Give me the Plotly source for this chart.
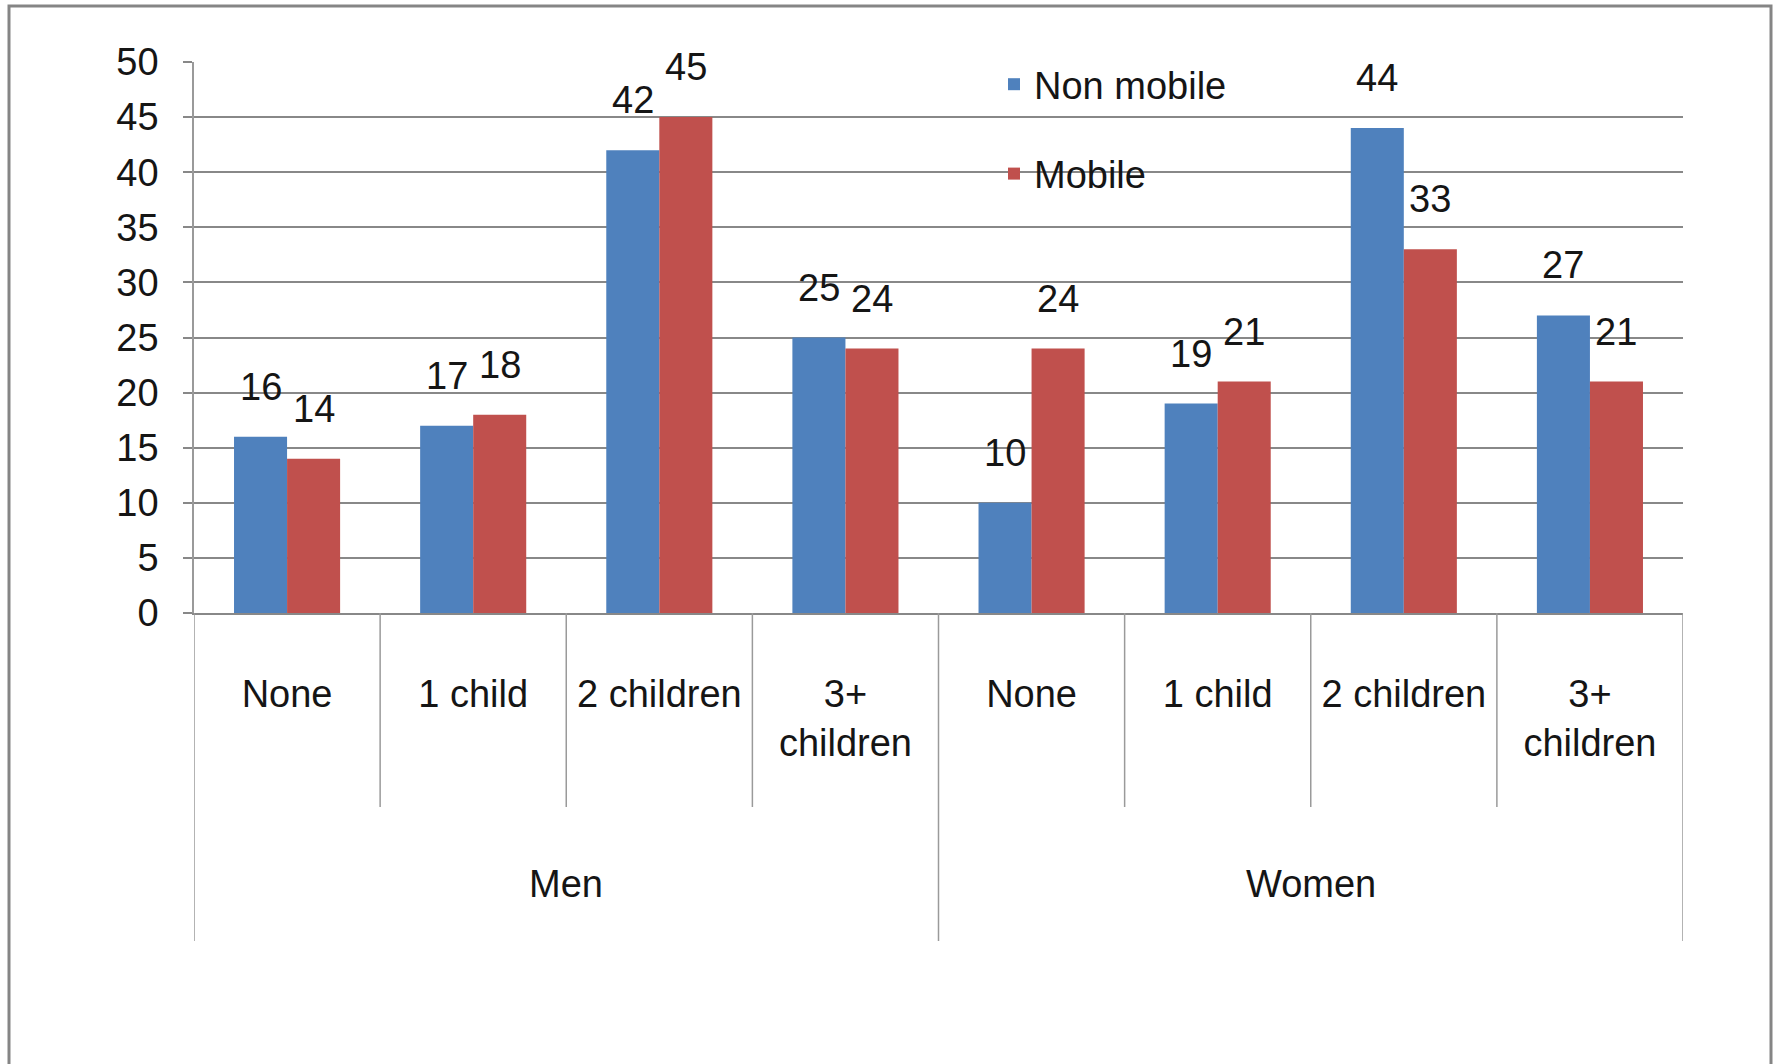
import plotly.graph_objects as go

# Chart data
groups = ["Men", "Women"]
children = ["None", "1 child", "2 children", "3+<br>children"]
series_names = ["Non mobile", "Mobile"]
non_mobile = [16, 17, 42, 25, 10, 19, 44, 27]
mobile = [14, 18, 45, 24, 24, 21, 33, 21]
y_ticks = [0, 5, 10, 15, 20, 25, 30, 35, 40, 45, 50]

# Styling
BLUE = "#4F81BD"
RED = "#C0504D"
GRID = "#888888"
SEP = "#9A9A9A"
FONT = "Liberation Sans, Arial, sans-serif"
FS = 38
TXT = "#151515"
BARGAP = 0.43

W, H = 1778, 1064
M_L, M_R, M_T, M_B = 194, 95, 62, 451
PLOT_W = W - M_L - M_R
PLOT_H = H - M_T - M_B


def px_x(px):
    return (px - M_L) / PLOT_W


def px_y(py):
    return (H - M_B - py) / PLOT_H


n_sub = len(children)
labels = [c for _ in groups for c in children]
positions = list(range(len(labels)))

fig = go.Figure()
for name, vals, col in [(series_names[0], non_mobile, BLUE), (series_names[1], mobile, RED)]:
    fig.add_trace(go.Bar(
        x=positions, y=vals, name=name, legendgroup=name,
        marker=dict(color=col, line=dict(width=0)),
    ))

# value labels sitting above each bar
half = (1 - BARGAP) / 4
annotations = []
for vals, off in [(non_mobile, -half), (mobile, half)]:
    for xi, v in zip(positions, vals):
        annotations.append(dict(
            x=xi + off, y=v, xref="x", yref="y", text=f"{v:g}",
            showarrow=False, yshift=50, yanchor="middle",
            font=dict(family=FONT, size=FS, color=TXT),
        ))

# outer group labels
for gi, g in enumerate(groups):
    annotations.append(dict(
        x=gi * n_sub + (n_sub - 1) / 2, y=px_y(884), xref="x", yref="paper",
        text=g, showarrow=False, yanchor="middle",
        font=dict(family=FONT, size=FS, color=TXT),
    ))

# category separators below the axis
shapes = []
for k in range(len(labels) + 1):
    outer = k % n_sub == 0
    shapes.append(dict(
        type="line", xref="x", yref="paper",
        x0=k - 0.5, x1=k - 0.5, y0=0, y1=px_y(941 if outer else 807),
        line=dict(color=SEP, width=1.5),
    ))

# outer frame
shapes.append(dict(
    type="rect", xref="paper", yref="paper",
    x0=px_x(9), x1=px_x(1771), y0=px_y(1080), y1=px_y(6),
    line=dict(color="#858585", width=3), fillcolor="rgba(0,0,0,0)", layer="below",
))

fig.update_layout(
    width=W, height=H,
    margin=dict(l=M_L, r=M_R, t=M_T, b=M_B),
    paper_bgcolor="white", plot_bgcolor="white",
    barmode="group", bargap=BARGAP, bargroupgap=0,
    font=dict(family=FONT, size=FS, color=TXT),
    showlegend=True,
    legend=dict(
        x=px_x(994), y=px_y(53), xanchor="left", yanchor="top",
        bgcolor="rgba(0,0,0,0)", font=dict(family=FONT, size=FS),
        tracegroupgap=37, traceorder="grouped",
    ),
    annotations=annotations,
    shapes=shapes,
)

fig.update_xaxes(
    range=[-0.5, len(labels) - 0.5],
    tickvals=positions, ticktext=labels, ticks="",
    showgrid=False, showline=True, linecolor=GRID, linewidth=2,
    ticklabelstandoff=46, zeroline=False,
    tickfont=dict(family=FONT, size=FS, color=TXT),
)
fig.update_yaxes(
    range=[0, 50], tickvals=y_ticks,
    showgrid=True, gridcolor=GRID, gridwidth=2,
    ticks="outside", ticklen=9, tickcolor=GRID, tickwidth=2,
    showline=True, linecolor=SEP, linewidth=1.5,
    zeroline=False, ticklabelstandoff=17,
    tickfont=dict(family=FONT, size=FS, color=TXT),
)

fig.write_html("out.html")
